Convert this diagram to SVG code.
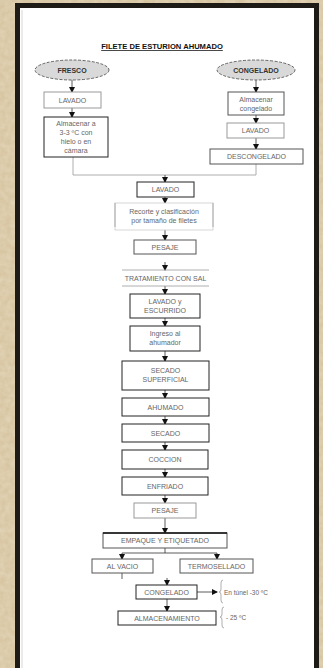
<svg xmlns="http://www.w3.org/2000/svg" width="323" height="668" viewBox="0 0 323 668">
<defs>
<style>
.bx{fill:#fff;stroke:#555;stroke-width:1}
.bd{fill:#fff;stroke:#222;stroke-width:1}
.bl{fill:#fff;stroke:#999;stroke-width:1}
.t{font-family:"Liberation Sans",Arial,sans-serif;font-size:7px;fill:#666;text-anchor:middle}
.ts{font-family:"Liberation Sans",Arial,sans-serif;font-size:6.5px;fill:#666}
.el{fill:#d9d9d9;stroke:#444;stroke-width:0.8;stroke-dasharray:3 1.5}
.eb{font-family:"Liberation Sans",Arial,sans-serif;font-size:7px;font-weight:bold;fill:#333;text-anchor:middle}
.ln{fill:none;stroke:#333;stroke-width:0.8}
.lg{fill:none;stroke:#999;stroke-width:0.8}
</style>
<marker id="ah" viewBox="0 0 6 6" refX="5" refY="3" markerWidth="6" markerHeight="6" markerUnits="userSpaceOnUse" orient="auto">
<path d="M0,0 L6,3 L0,6 z" fill="#111"/>
</marker>
<filter id="tex" x="0" y="0" width="100%" height="100%">
<feTurbulence type="fractalNoise" baseFrequency="0.18" numOctaves="2" seed="3"/>
<feColorMatrix type="matrix" values="0 0 0 0 0.84  0 0 0 0 0.77  0 0 0 0 0.63  0 0 0 -1.2 0.9"/>
</filter>
</defs>
<rect x="0" y="0" width="323" height="668" fill="#d8c6a2"/>
<rect x="0" y="0" width="323" height="668" filter="url(#tex)" opacity="0.6"/>
<rect x="15" y="3" width="304" height="665" fill="#1e1a16"/>
<rect x="20" y="8" width="294" height="660" fill="#fff"/>
<line x1="22" y1="10" x2="22" y2="668" stroke="#ccc" stroke-width="0.8"/>

<text x="162" y="49" font-family="Liberation Sans,Arial,sans-serif" font-size="7.6" font-weight="bold" fill="#111" text-anchor="middle" text-decoration="underline">FILETE DE ESTURION AHUMADO</text>

<g id="connectors">
<line class="ln" x1="72" y1="80" x2="72" y2="92" marker-end="url(#ah)"/>
<line class="ln" x1="72" y1="108" x2="72" y2="117" marker-end="url(#ah)"/>
<line class="ln" x1="256" y1="80" x2="256" y2="92" marker-end="url(#ah)"/>
<line class="ln" x1="256" y1="115" x2="256" y2="123" marker-end="url(#ah)"/>
<line class="ln" x1="256" y1="138" x2="256" y2="149" marker-end="url(#ah)"/>
<polyline class="lg" points="73,157 73,175 256,175 256,164"/>
<line class="ln" x1="165" y1="175" x2="165" y2="182" marker-end="url(#ah)"/>
<line class="ln" x1="165" y1="197" x2="165" y2="203" marker-end="url(#ah)"/>
<line class="ln" x1="165" y1="230" x2="165" y2="240" marker-end="url(#ah)"/>
<line class="ln" x1="165" y1="262" x2="165" y2="270" marker-end="url(#ah)"/>
<line class="ln" x1="165" y1="286" x2="165" y2="294" marker-end="url(#ah)"/>
<line class="ln" x1="165" y1="318" x2="165" y2="326" marker-end="url(#ah)"/>
<line class="ln" x1="165" y1="351" x2="165" y2="361" marker-end="url(#ah)"/>
<line class="ln" x1="165" y1="390" x2="165" y2="398" marker-end="url(#ah)"/>
<line class="ln" x1="165" y1="416" x2="165" y2="424" marker-end="url(#ah)"/>
<line class="ln" x1="165" y1="442" x2="165" y2="450" marker-end="url(#ah)"/>
<line class="ln" x1="165" y1="469" x2="165" y2="477" marker-end="url(#ah)"/>
<line class="ln" x1="165" y1="495" x2="165" y2="503" marker-end="url(#ah)"/>
<line class="ln" x1="165" y1="518" x2="165" y2="533" marker-end="url(#ah)"/>
<polyline class="ln" points="165,548 165,553"/>
<line class="ln" x1="122" y1="553" x2="217" y2="553"/>
<line class="ln" x1="122" y1="553" x2="122" y2="559" marker-end="url(#ah)"/>
<line class="ln" x1="217" y1="553" x2="217" y2="559" marker-end="url(#ah)"/>
<line class="ln" x1="122" y1="573" x2="122" y2="579"/>
<line class="ln" x1="167" y1="578" x2="167" y2="585" marker-end="url(#ah)"/>
<line class="ln" x1="197" y1="592" x2="217" y2="592" marker-end="url(#ah)"/>
<line class="ln" x1="167" y1="599" x2="167" y2="611" marker-end="url(#ah)"/>
<path class="lg" d="M223,580 Q221,580 221,583 L221,589 Q221,592 219,592 Q221,592 221,595 L221,600 Q221,603 223,603"/>
<path class="lg" d="M224,607 Q222,607 222,610 L222,614 Q222,617 220,617 Q222,617 222,620 L222,625 Q222,628 224,628"/>
</g>

<g id="fresco"><ellipse class="el" cx="72" cy="70" rx="37" ry="10"/><text class="eb" x="72" y="72.5">FRESCO</text></g>
<g id="congelado-in"><ellipse class="el" cx="256" cy="70" rx="39" ry="10"/><text class="eb" x="256" y="72.5">CONGELADO</text></g>

<g id="lavado1"><rect class="bl" x="44" y="92" width="57" height="16"/><text class="t" x="72.5" y="102.5">LAVADO</text></g>
<g id="almacenar3"><rect class="bd" x="44" y="117" width="64" height="40"/><text class="t" x="76" y="126">Almacenar a</text><text class="t" x="76" y="135">3-3 ºC con</text><text class="t" x="76" y="144">hielo o en</text><text class="t" x="76" y="153">cámara</text></g>

<g id="almcong"><rect class="bx" x="228" y="92" width="56" height="23"/><text class="t" x="256" y="101.5">Almacenar</text><text class="t" x="256" y="110.5">congelado</text></g>
<g id="lavado2"><rect class="bl" x="227" y="123" width="57" height="15"/><text class="t" x="255.5" y="133">LAVADO</text></g>
<g id="descong"><rect class="bx" x="210" y="149" width="93" height="15"/><text class="t" x="256.5" y="159">DESCONGELADO</text></g>

<g id="lavado3"><rect class="bd" x="137" y="182" width="57" height="15"/><text class="t" x="165.5" y="192">LAVADO</text></g>
<g id="recorte"><rect fill="#fff" stroke="#ccc" stroke-width="0.8" x="115" y="203" width="98" height="27"/><line class="lg" x1="115" y1="203" x2="115" y2="227"/><line class="lg" x1="213" y1="203" x2="213" y2="227"/><text class="t" x="164" y="214">Recorte y clasificación</text><text class="t" x="164" y="223">por tamaño de filetes</text></g>
<g id="pesaje1"><rect class="bx" x="134" y="240" width="62" height="14"/><text class="t" x="165" y="249.5">PESAJE</text></g>
<g id="tratamiento"><line class="lg" x1="122" y1="270" x2="209" y2="270"/><line class="lg" x1="122" y1="286" x2="209" y2="286"/><text class="t" x="165.5" y="280.5">TRATAMIENTO CON SAL</text></g>
<g id="lavesc"><rect class="bd" x="130" y="294" width="70" height="24"/><text class="t" x="165" y="304">LAVADO y</text><text class="t" x="165" y="313">ESCURRIDO</text></g>
<g id="ingreso"><rect class="bd" x="130" y="326" width="70" height="25"/><text class="t" x="165" y="336">Ingreso al</text><text class="t" x="165" y="345">ahumador</text></g>
<g id="secsup"><rect class="bd" x="122" y="361" width="87" height="29"/><text class="t" x="165.5" y="373">SECADO</text><text class="t" x="165.5" y="382">SUPERFICIAL</text></g>
<g id="ahumado"><rect class="bd" x="122" y="398" width="87" height="18"/><text class="t" x="165.5" y="409.5">AHUMADO</text></g>
<g id="secado"><rect class="bd" x="122" y="424" width="87" height="18"/><text class="t" x="165.5" y="435.5">SECADO</text></g>
<g id="coccion"><rect class="bd" x="122" y="450" width="86" height="19"/><text class="t" x="165" y="462">COCCION</text></g>
<g id="enfriado"><rect class="bd" x="122" y="477" width="86" height="18"/><text class="t" x="165" y="488.5">ENFRIADO</text></g>
<g id="pesaje2"><rect class="bl" x="134" y="503" width="62" height="15"/><text class="t" x="165" y="513">PESAJE</text></g>
<g id="empaque"><rect class="bx" x="103" y="533" width="124" height="15"/><line x1="103" y1="533" x2="227" y2="533" stroke="#111" stroke-width="1.6"/><text class="t" x="165" y="543">EMPAQUE Y ETIQUETADO</text></g>
<g id="alvacio"><rect class="bx" x="92" y="559" width="61" height="14"/><text class="t" x="122.5" y="568.5">AL VACIO</text></g>
<g id="termo"><rect class="bx" x="180" y="559" width="73" height="14"/><text class="t" x="216.5" y="568.5">TERMOSELLADO</text></g>
<g id="congelado"><rect class="bd" x="136" y="585" width="61" height="14"/><text class="t" x="166.5" y="594.5">CONGELADO</text></g>
<g id="almacenamiento"><rect class="bd" x="118" y="611" width="98" height="14"/><text class="t" x="167" y="620.5">ALMACENAMIENTO</text></g>
<g id="notes"><text class="ts" x="224" y="594.5">En túnel -30 ºC</text><text class="ts" x="226" y="620">- 25 ºC</text></g>
</svg>
